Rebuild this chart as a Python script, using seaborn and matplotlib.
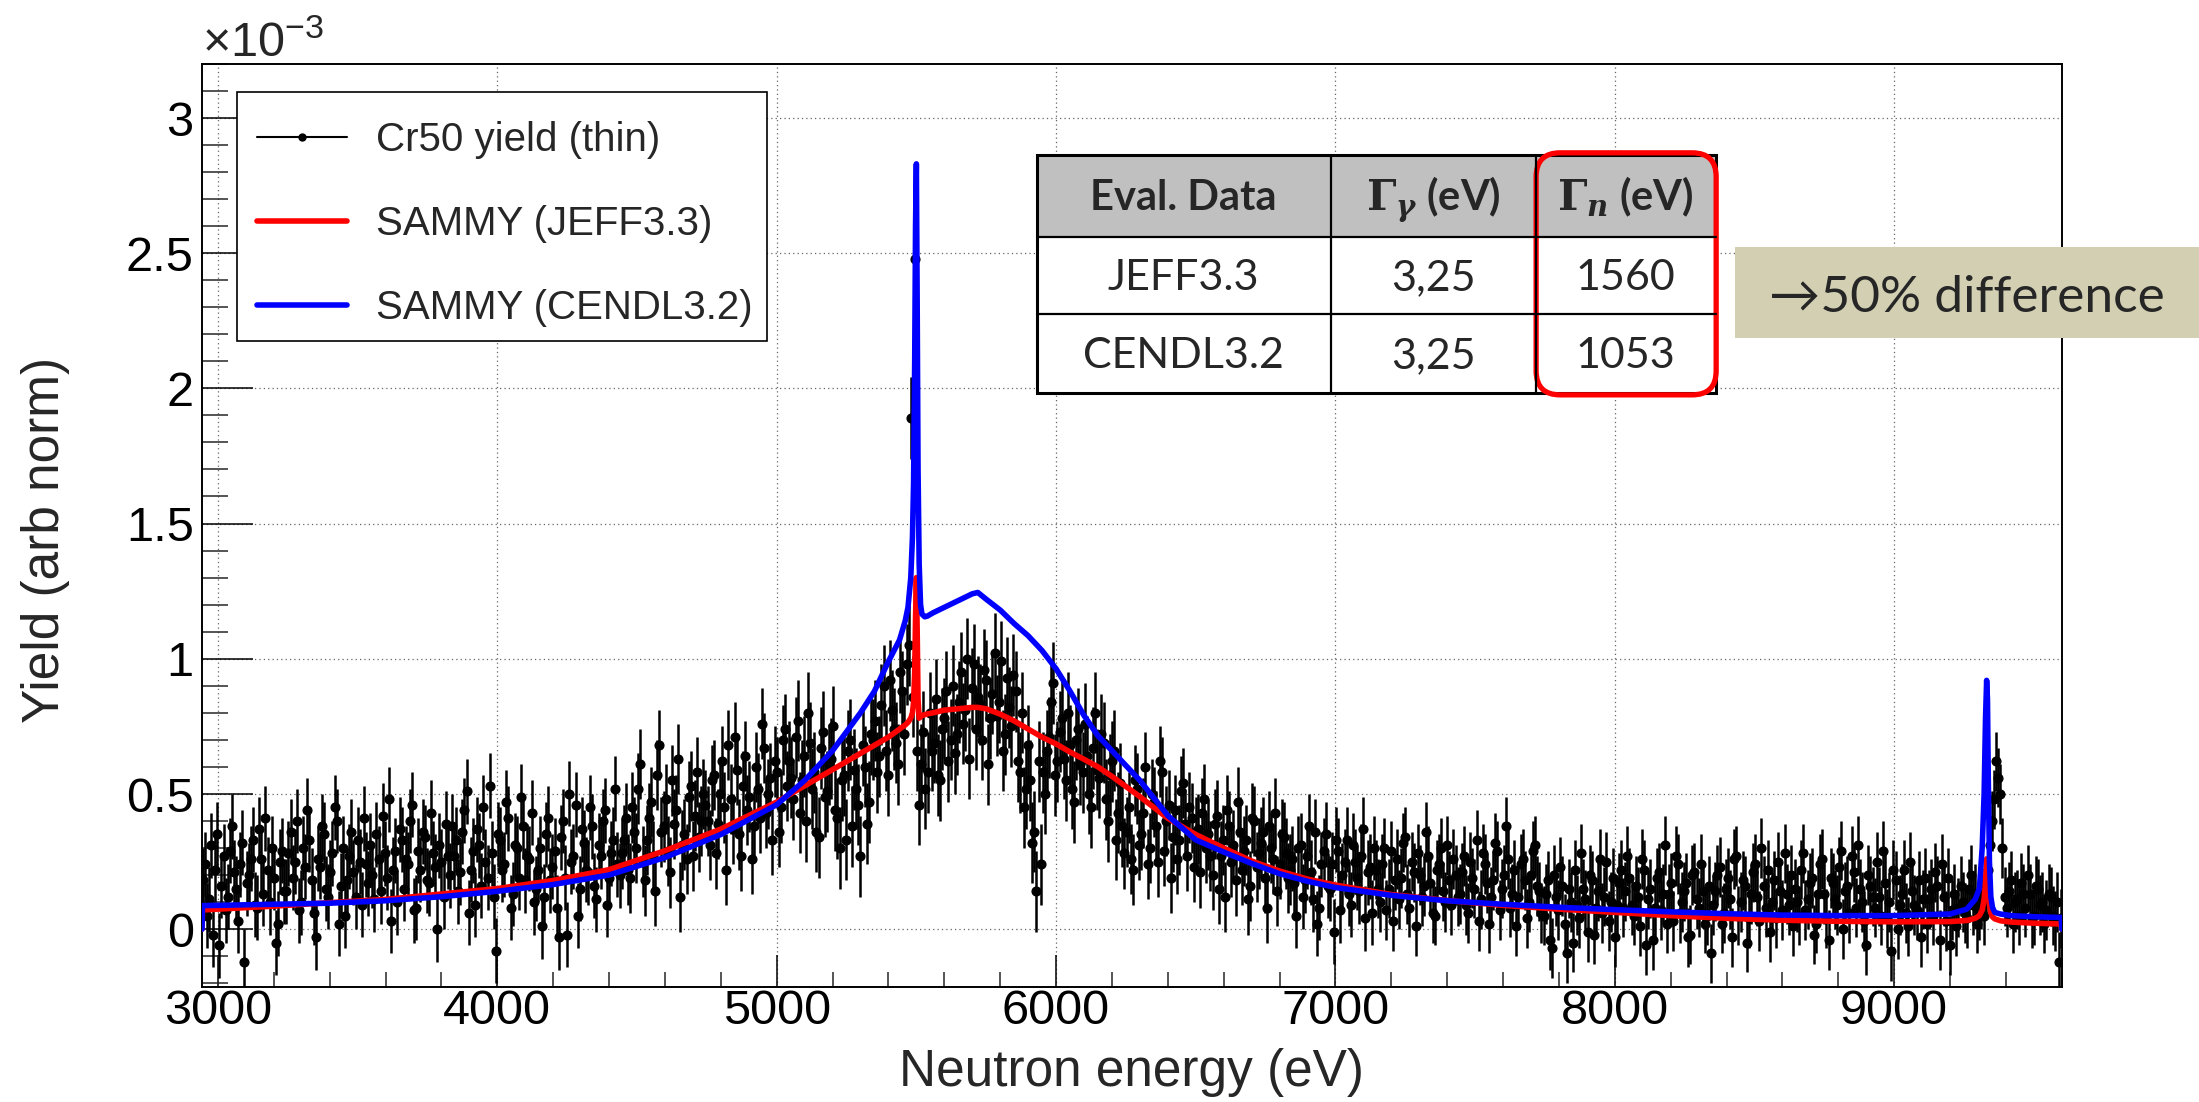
import numpy as np
import pandas as pd
import matplotlib
matplotlib.use("Agg")
import matplotlib.pyplot as plt
import seaborn as sns
from matplotlib.patches import Rectangle, FancyBboxPatch
from matplotlib.lines import Line2D
from matplotlib.ticker import MultipleLocator

## Cr50 yield data points (units of 1e-3), one every 15 eV from 2945 eV
e_start = 2945
e_step = 15
yield_rows = [
    [0.18, 0.05, 0.31, 0.22, -0.06, 0.27, 0.12, 0.38, 0.15, 0.24, -0.12, 0.20, 0.33, 0.08, 0.26, 0.41, 0.10, 0.19, 0.02, 0.29],
    [0.14, 0.36, 0.25, 0.07, 0.30, 0.44, 0.18, -0.03, 0.23, 0.35, 0.12, 0.28, 0.40, 0.16, 0.05, 0.27, 0.21, 0.33, 0.09, 0.24],
    [0.31, 0.11, 0.26, 0.42, 0.19, 0.03, 0.29, 0.37, 0.15, 0.24, 0.46, 0.08, 0.22, 0.34, 0.17, 0.28, 0.00, 0.25, 0.39, 0.20],
    [0.27, 0.14, 0.36, 0.51, 0.22, 0.09, 0.31, 0.45, 0.19, 0.28, -0.08, 0.33, 0.24, 0.41, 0.13, 0.30, 0.49, 0.18, 0.26, 0.10],
    [0.22, 0.01, 0.35, 0.18, 0.29, -0.03, 0.40, -0.02, 0.25, 0.46, 0.15, 0.32, 0.21, 0.38, 0.11, 0.27, 0.44, 0.19, 0.33, 0.24],
    [0.28, 0.41, 0.19, 0.36, 0.52, 0.25, 0.33, 0.47, 0.14, 0.68, 0.38, 0.29, 0.55, 0.44, 0.12, 0.35, 0.49, 0.27, 0.58, 0.40],
    [0.46, 0.31, 0.57, 0.39, 0.62, 0.22, 0.48, 0.71, 0.35, 0.53, 0.44, 0.26, 0.60, 0.41, 0.67, 0.50, 0.33, 0.58, 0.45, 0.74],
    [0.62, 0.48, 0.77, 0.55, 0.40, 0.69, 0.58, 0.34, 0.73, 0.51, 0.63, 0.44, 0.30, 0.57, 0.66, 0.38, 0.52, 0.27, 0.60, 0.47],
    [0.70, 0.58, 0.83, 0.66, 0.92, 0.74, 0.61, 0.88, 0.98, 1.89, 2.48, 0.46, 0.73, 0.58, 0.66, 0.85, 0.55, 0.78, 0.62, 0.90],
    [0.72, 0.95, 0.81, 0.63, 0.98, 0.86, 0.70, 0.92, 0.78, 1.02, 0.84, 0.66, 0.93, 0.75, 0.88, 0.58, 0.45, 0.68, 0.32, 0.14],
    [0.24, 0.50, 0.71, 0.91, 0.62, 0.78, 0.55, 0.68, 0.47, 0.74, 0.58, 0.64, 0.45, 0.80, 0.56, 0.69, 0.40, 0.62, 0.33, 0.54],
    [0.28, 0.45, 0.22, 0.52, 0.35, 0.60, 0.30, 0.47, 0.25, 0.58, 0.40, 0.19, 0.44, 0.33, 0.54, 0.27, 0.41, 0.36, 0.21, 0.48],
    [0.35, 0.20, 0.42, 0.27, 0.12, 0.38, 0.31, 0.47, 0.22, 0.33, 0.16, 0.40, 0.28, 0.36, 0.08, 0.30, 0.43, 0.24, 0.34, 0.19],
    [0.26, 0.05, 0.31, 0.18, 0.38, 0.11, 0.02, 0.24, 0.35, 0.15, -0.01, 0.29, 0.20, 0.33, 0.09, 0.25, 0.14, 0.37, 0.21, 0.06],
    [0.22, 0.10, 0.30, 0.15, 0.03, 0.26, 0.19, 0.34, 0.08, 0.21, 0.28, 0.12, 0.36, 0.17, 0.05, 0.24, 0.14, 0.31, 0.09, 0.20],
    [0.13, 0.27, 0.06, 0.19, 0.33, 0.11, 0.24, 0.02, 0.18, 0.29, 0.15, 0.38, 0.08, 0.22, 0.12, 0.26, 0.04, 0.20, 0.31, 0.14],
    [0.05, 0.18, -0.07, 0.12, 0.23, 0.02, 0.15, -0.05, 0.09, 0.28, 0.11, 0.20, -0.02, 0.14, 0.06, 0.25, 0.10, -0.03, 0.17, 0.08],
    [0.27, 0.09, 0.16, 0.01, 0.22, 0.11, -0.04, 0.19, 0.07, 0.31, 0.13, 0.03, 0.24, 0.10, 0.17, -0.02, 0.21, 0.08, 0.14, 0.05],
    [-0.09, 0.14, 0.23, 0.06, 0.19, -0.03, 0.27, 0.10, 0.16, 0.04, 0.21, 0.12, 0.30, 0.08, -0.01, 0.18, 0.25, 0.07, 0.13, 0.20],
    [0.15, 0.05, 0.28, 0.11, 0.19, 0.02, 0.24, 0.13, -0.04, 0.17, 0.09, 0.29, 0.14, 0.06, 0.21, 0.31, 0.10, -0.06, 0.16, 0.08],
    [0.12, 0.29, 0.04, -0.08, 0.18, 0.09, 0.22, 0.01, 0.14, 0.07, -0.03, 0.19, 0.11, 0.05, 0.16, 0.24, 0.03, -0.06, 0.13, 0.08],
    [0.10, 0.04, 0.20, 0.13, 0.07, 0.05, 0.22, 0.40, 0.62, 0.50, 0.12, 0.14, 0.02, 0.11, 0.17, 0.08, 0.13, 0.05, 0.15, 0.10],
    [0.07, 0.12, 0.03, -0.12],
]
# the points lying half-way between the ones above (7.5 eV later)
yield_rows_mid = [
    [0.24, 0.11, -0.02, 0.35, 0.16, 0.07, 0.29, 0.21, 0.03, 0.32, 0.17, 0.26, 0.09, 0.37, 0.13, 0.22, 0.30, -0.05, 0.25, 0.14],
    [0.28, 0.19, 0.40, 0.10, 0.23, 0.33, 0.06, 0.26, 0.38, 0.15, 0.21, 0.45, 0.02, 0.30, 0.18, 0.36, 0.12, 0.25, 0.41, 0.17],
    [0.20, 0.35, 0.14, 0.28, 0.48, 0.22, 0.10, 0.33, 0.26, 0.40, 0.07, 0.29, 0.36, 0.18, 0.43, 0.23, 0.31, 0.12, 0.27, 0.38],
    [0.33, 0.21, 0.44, 0.06, 0.29, 0.37, 0.16, 0.25, 0.53, 0.12, 0.35, 0.22, 0.47, 0.08, 0.31, 0.19, 0.38, 0.27, 0.43, 0.15],
    [0.30, 0.12, 0.41, 0.23, 0.08, 0.34, 0.19, 0.50, 0.27, 0.05, 0.37, 0.22, 0.45, 0.16, 0.31, 0.40, 0.09, 0.28, 0.52, 0.20],
    [0.33, 0.22, 0.45, 0.30, 0.61, 0.18, 0.41, 0.27, 0.57, 0.36, 0.48, 0.21, 0.39, 0.63, 0.31, 0.26, 0.53, 0.42, 0.34, 0.50],
    [0.40, 0.55, 0.28, 0.50, 0.45, 0.68, 0.37, 0.59, 0.27, 0.64, 0.49, 0.38, 0.52, 0.76, 0.43, 0.56, 0.62, 0.36, 0.70, 0.53],
    [0.56, 0.71, 0.43, 0.64, 0.80, 0.52, 0.36, 0.67, 0.49, 0.61, 0.75, 0.41, 0.55, 0.33, 0.70, 0.59, 0.46, 0.68, 0.39, 0.72],
    [0.77, 0.64, 0.90, 0.57, 0.81, 0.69, 0.95, 0.72, 1.05, 0.86, 0.66, 0.61, 0.52, 0.80, 0.69, 0.57, 0.74, 0.88, 0.70, 0.65],
    [0.84, 0.76, 1.00, 0.89, 0.74, 0.83, 0.96, 0.61, 0.87, 0.79, 0.99, 0.72, 0.82, 0.94, 0.62, 0.80, 0.52, 0.55, 0.36, 0.62],
    [0.58, 0.66, 0.84, 0.57, 0.73, 0.63, 0.80, 0.52, 0.70, 0.61, 0.76, 0.50, 0.67, 0.59, 0.72, 0.48, 0.57, 0.66, 0.43, 0.38],
    [0.36, 0.26, 0.55, 0.31, 0.43, 0.24, 0.50, 0.38, 0.62, 0.29, 0.46, 0.34, 0.26, 0.51, 0.39, 0.45, 0.23, 0.37, 0.43, 0.30],
    [0.27, 0.39, 0.15, 0.33, 0.44, 0.25, 0.18, 0.36, 0.29, 0.11, 0.41, 0.23, 0.32, 0.19, 0.38, 0.26, 0.14, 0.35, 0.28, 0.22],
    [0.17, 0.30, 0.12, 0.27, 0.21, 0.36, 0.08, 0.29, 0.16, 0.24, 0.33, 0.07, 0.25, 0.13, 0.31, 0.19, 0.27, 0.04, 0.23, 0.30],
    [0.15, 0.24, 0.07, 0.29, 0.18, 0.11, 0.32, 0.13, 0.25, 0.01, 0.20, 0.16, 0.27, 0.06, 0.22, 0.30, 0.10, 0.18, 0.26, 0.12],
    [0.21, 0.09, 0.25, 0.15, 0.03, 0.28, 0.17, 0.12, 0.32, 0.07, 0.20, 0.26, 0.13, 0.01, 0.24, 0.18, 0.10, 0.29, 0.16, 0.06],
    [0.13, -0.04, 0.20, 0.07, 0.16, -0.09, 0.10, 0.22, 0.04, 0.15, -0.01, 0.18, 0.08, 0.26, 0.12, 0.03, 0.19, 0.09, 0.22, 0.14],
    [0.19, 0.05, 0.12, 0.26, -0.06, 0.15, 0.08, 0.21, 0.13, 0.02, 0.17, 0.27, 0.06, 0.14, -0.03, 0.20, 0.11, 0.24, 0.02, 0.16],
    [0.09, 0.20, 0.02, 0.15, 0.11, 0.26, 0.05, 0.18, -0.05, 0.13, 0.24, 0.03, 0.16, 0.22, 0.10, 0.04, 0.14, 0.28, 0.09, 0.01],
    [0.10, 0.22, 0.07, 0.17, -0.02, 0.13, 0.26, 0.04, 0.19, 0.11, 0.23, 0.00, 0.16, 0.27, 0.08, 0.15, 0.03, 0.20, 0.12, 0.25],
    [0.05, 0.17, 0.10, 0.22, 0.00, 0.13, 0.06, 0.25, 0.09, 0.18, 0.11, 0.02, 0.15, 0.21, -0.04, 0.12, 0.19, 0.07, 0.01, 0.16],
    [0.06, 0.15, 0.09, 0.02, 0.11, 0.15, 0.31, 0.48, 0.56, 0.30, 0.08, 0.18, 0.10, 0.05, 0.13, 0.20, 0.04, 0.16, 0.09, 0.02],
    [0.13, 0.05, 0.10, 0.04],
]
# error bar half-size per row (1e-3)
yield_err_rows = [0.12, 0.12, 0.12, 0.12, 0.12, 0.13, 0.13, 0.15, 0.15, 0.15, 0.15,
                  0.13, 0.13, 0.12, 0.11, 0.11, 0.11, 0.11, 0.11, 0.11, 0.11, 0.11, 0.11]

## SAMMY curves (units of 1e-3)
curve_e = [2943, 2945, 3000, 3200, 3400, 3600, 3800, 4000, 4200, 4400, 4600, 4800, 5000, 5100, 5200,
           5300, 5350, 5400, 5440, 5460, 5470, 5480, 5486, 5490, 5494, 5497, 5500, 5503, 5506, 5510,
           5515, 5520, 5530, 5540, 5560, 5600, 5650, 5700, 5720, 5750, 5800, 5850, 5900, 5950, 6000,
           6050, 6100, 6150, 6200, 6300, 6400, 6500, 6600, 6700, 6800, 6900, 7000, 7200, 7400, 7600,
           7800, 8000, 8200, 8400, 8600, 8800, 9000, 9200, 9260, 9290, 9305, 9315, 9322, 9327, 9331,
           9334, 9337, 9341, 9346, 9352, 9360, 9380, 9420, 9500, 9598, 9600]
jeff_y = [0, 0.071, 0.074, 0.085, 0.098, 0.11, 0.13, 0.15, 0.18, 0.22, 0.29, 0.37, 0.47, 0.53, 0.59,
          0.65, 0.68, 0.71, 0.74, 0.755, 0.765, 0.78, 0.80, 0.84, 0.95, 1.15, 1.30, 1.10, 0.85, 0.78,
          0.785, 0.79, 0.793, 0.796, 0.80, 0.81, 0.815, 0.82, 0.82, 0.815, 0.795, 0.77, 0.74, 0.71, 0.685,
          0.655, 0.628, 0.60, 0.565, 0.49, 0.41, 0.35, 0.30, 0.252, 0.215, 0.185, 0.163, 0.128, 0.106, 0.088,
          0.074, 0.062, 0.05, 0.04, 0.033, 0.029, 0.027, 0.028, 0.032, 0.04, 0.05, 0.07, 0.11, 0.18, 0.26,
          0.24, 0.16, 0.09, 0.06, 0.045, 0.038, 0.031, 0.026, 0.022, 0.019, 0]
cendl_y = [0, 0.087, 0.088, 0.092, 0.096, 0.105, 0.12, 0.14, 0.165, 0.20, 0.265, 0.35, 0.46, 0.55, 0.66,
           0.80, 0.88, 0.99, 1.07, 1.14, 1.19, 1.30, 1.45, 1.65, 2.1, 2.6, 2.83, 2.3, 1.7, 1.35,
           1.20, 1.165, 1.155, 1.158, 1.17, 1.19, 1.215, 1.24, 1.245, 1.22, 1.18, 1.13, 1.085, 1.03, 0.963,
           0.88, 0.79, 0.715, 0.66, 0.55, 0.42, 0.33, 0.285, 0.243, 0.205, 0.177, 0.154, 0.125, 0.105, 0.092,
           0.081, 0.072, 0.064, 0.057, 0.052, 0.05, 0.05, 0.056, 0.074, 0.11, 0.15, 0.30, 0.50, 0.78, 0.92,
           0.85, 0.55, 0.25, 0.12, 0.08, 0.062, 0.056, 0.05, 0.046, 0.043, 0]

table_header = ['Eval. Data', r'$\mathbf{\Gamma}_{\gamma}$ (eV)', r'$\mathbf{\Gamma}_{n}$ (eV)']
table_rows = [['JEFF3.3', '3,25', '1560'],
              ['CENDL3.2', '3,25', '1053']]
note_text = '→50% difference'

row_len = [len(r) for r in yield_rows]
y_a = np.concatenate(yield_rows)
y_b = np.concatenate(yield_rows_mid)
err = np.repeat(yield_err_rows, row_len)
e_a = e_start + e_step * np.arange(len(y_a))
data = pd.DataFrame({'E': np.concatenate([e_a, e_a + e_step / 2]),
                     'Y': np.concatenate([y_a, y_b]),
                     'err': np.concatenate([err, err])}).sort_values('E')
curves = pd.DataFrame({'E': curve_e, 'JEFF': jeff_y, 'CENDL': cendl_y})

sns.set_theme(style='white')
plt.rcParams['font.family'] = ['Liberation Sans', 'DejaVu Sans']
plt.rcParams['mathtext.fontset'] = 'custom'
plt.rcParams['mathtext.rm'] = 'Liberation Sans'
plt.rcParams['mathtext.it'] = 'DejaVu Serif:italic:bold'
plt.rcParams['mathtext.bf'] = 'DejaVu Serif:bold'

W, H = 2199, 1102
fig = plt.figure(figsize=(2199.2 / 100, 1102.2 / 100), dpi=100)
fig.patch.set_facecolor('white')
ax_l, ax_r, ax_t, ax_b = 202, 2061.6, 64, 987.3
ax = fig.add_axes([ax_l / W, 1 - ax_b / H, (ax_r - ax_l) / W, (ax_b - ax_t) / H])

ax.errorbar(data['E'], data['Y'], yerr=data['err'], fmt='o', ms=6.3, color='black',
            ecolor='black', elinewidth=1.8, capsize=0, zorder=2)
sns.lineplot(data=curves, x='E', y='JEFF', color='red', lw=4, sort=False,
             estimator=None, ax=ax, zorder=3)
sns.lineplot(data=curves, x='E', y='CENDL', color='blue', lw=4, sort=False,
             estimator=None, ax=ax, zorder=4)

ax.set_xlim(2943, 9600)
ax.set_ylim(-0.215, 3.2)
ax.set_xticks([3000, 4000, 5000, 6000, 7000, 8000, 9000])
ax.set_xticklabels(['3000', '4000', '5000', '6000', '7000', '8000', '9000'])
ax.set_yticks([0, 0.5, 1, 1.5, 2, 2.5, 3])
ax.set_yticklabels(['0', '0.5', '1', '1.5', '2', '2.5', '3'])
ax.xaxis.set_minor_locator(MultipleLocator(200))
ax.yaxis.set_minor_locator(MultipleLocator(0.1))
ax.tick_params(axis='x', which='major', direction='in', length=23, width=1.1, labelsize=35,
               pad=1, top=False, bottom=True, colors='black')
ax.tick_params(axis='x', which='minor', direction='in', length=11, width=1.1, top=False, bottom=True)
ax.tick_params(axis='y', which='major', direction='in', length=37, width=1.1, labelsize=35,
               pad=6, left=True, right=False, colors='black')
ax.tick_params(axis='y', which='minor', direction='in', length=18.5, width=1.1, left=True, right=False)
ax.grid(True, which='major', color='#666666', lw=0.9, linestyle=(0, (1, 2.5)))
for s in ax.spines.values():
    s.set_color('black')
    s.set_linewidth(1.4)

ax.set_xlabel('Neutron energy (eV)', fontsize=37)
ax.xaxis.set_label_coords(0.5, -0.066)
ax.set_ylabel('Yield (arb norm)', fontsize=37)
ax.yaxis.set_label_coords(-0.071, 0.485)

fig.text(ax_l / W, 1 - 57 / H, '×10$^{-3}$', fontsize=35, ha='left', va='baseline')

## table, legend frame and note are placed in pixel coordinates on a transparent overlay
ov = fig.add_axes([0, 0, 1, 1], zorder=20)
ov.set_xlim(0, W)
ov.set_ylim(H, 0)
ov.axis('off')
ov.patch.set_alpha(0)

# legend: frame drawn by hand, entries without frame
ax.add_patch(Rectangle((237, 92.5), 530, 248.5, transform=ov.transData, fc='white',
                       ec='black', lw=1.2, clip_on=False, zorder=9))
handles = [Line2D([], [], color='black', lw=1.5, marker='o', ms=5),
           Line2D([], [], color='red', lw=4),
           Line2D([], [], color='blue', lw=4)]
labels = ['Cr50 yield (thin)', 'SAMMY (JEFF3.3)', 'SAMMY (CENDL3.2)']
leg = ax.legend(handles, labels, loc='upper left',
                bbox_to_anchor=((256.6 - ax_l) / (ax_r - ax_l), (ax_b - 121) / (ax_b - ax_t)),
                fontsize=29, frameon=False, handlelength=2.24, handletextpad=0.72,
                labelspacing=1.14, borderpad=0, borderaxespad=0)
leg.set_zorder(10)

t_x = [1036.5, 1330.5, 1535.8, 1715.5]
t_y = [155, 236.7, 314.3, 392.7]
ov.add_patch(Rectangle((t_x[0], t_y[0]), t_x[3] - t_x[0], t_y[1] - t_y[0], fc='#c0c0c0', ec='none'))
ov.add_patch(Rectangle((t_x[0], t_y[1]), t_x[3] - t_x[0], t_y[3] - t_y[1], fc='white', ec='none'))
for xx in t_x[1:3]:
    ov.plot([xx, xx], [t_y[0], t_y[3]], color='black', lw=1.6)
for yy in t_y[1:3]:
    ov.plot([t_x[0], t_x[3]], [yy, yy], color='black', lw=1.6)
ov.add_patch(Rectangle((t_x[0], t_y[0]), t_x[3] - t_x[0], t_y[3] - t_y[0], fc='none', ec='black', lw=2.2))

for j, txt in enumerate(table_header):
    cx = (t_x[j] + t_x[j + 1]) / 2
    cy = (t_y[0] + t_y[1]) / 2
    ov.text(cx, cy + 14.5, txt, ha='center', va='baseline', fontsize=30,
            family=['Lato', 'DejaVu Sans'], weight='bold')
for i, row in enumerate(table_rows):
    for j, txt in enumerate(row):
        cx = (t_x[j] + t_x[j + 1]) / 2
        cy = (t_y[i + 1] + t_y[i + 2]) / 2
        ov.text(cx, cy + 14.5, txt, ha='center', va='baseline', fontsize=31,
                family=['Lato', 'DejaVu Sans'])

ov.add_patch(FancyBboxPatch((1536, 153), 180, 242, boxstyle='round,pad=0,rounding_size=24',
                            fc='none', ec='#ff0000', lw=3.8))

ov.add_patch(Rectangle((1735, 247), 470, 91, fc='#d2cfb3', ec='none'))
ov.text(1967, 312, note_text, ha='center', va='baseline', fontsize=37,
        family=['Lato', 'DejaVu Sans'])

fig.savefig('out.png', dpi=100)
